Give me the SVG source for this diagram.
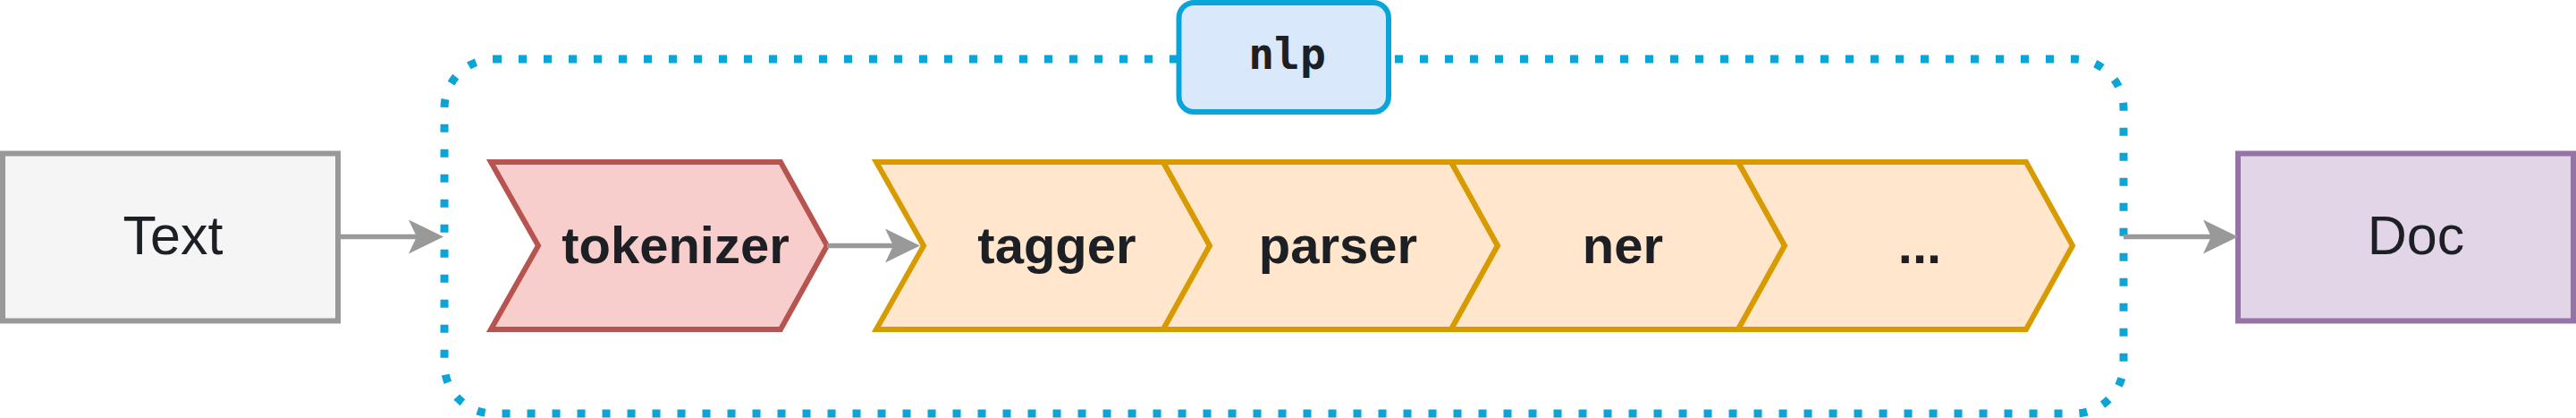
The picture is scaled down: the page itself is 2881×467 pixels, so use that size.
<svg xmlns="http://www.w3.org/2000/svg" width="2881" height="467" viewBox="0 0 2881 467">
  <style>
    .box { stroke-width: 6; }
    .lbl { font-family: "Liberation Sans", Arial, sans-serif; font-size: 61px; fill: #1c1f23; text-anchor: middle; }
    .blbl { font-family: "Liberation Sans", Arial, sans-serif; font-size: 58px; font-weight: bold; fill: #1c1f23; text-anchor: middle; }
    .mono { font-family: "DejaVu Sans Mono", "Liberation Mono", monospace; font-size: 48px; font-weight: bold; fill: #1c1f23; text-anchor: middle; }
    .step { fill: #ffe6cc; stroke: #d79b00; stroke-width: 6; stroke-linejoin: miter; }
    .conn { fill: none; stroke: #999999; stroke-width: 5.5; }
  </style>
  <defs>
    <marker id="arrow" viewBox="0 0 39 38" refX="9" refY="19" markerWidth="39" markerHeight="38" markerUnits="userSpaceOnUse" orient="auto">
      <path d="M39,19 L0,0 L9,19 L0,38 Z" fill="#999999"/>
    </marker>
  </defs>

  <g id="container">
    <rect x="497" y="66" width="1878" height="396" rx="55" ry="55" fill="none" stroke="#0aa5d8" stroke-width="9" stroke-dasharray="9 19"/>
  </g>

  <g id="nlp-label">
    <rect x="1318.5" y="3" width="234.5" height="122" rx="17" ry="17" fill="#dae8fc" stroke="#0aa5d8" stroke-width="6"/>
    <text class="mono" x="1439.5" y="77">nlp</text>
  </g>

  <g id="text-node">
    <rect class="box" x="3" y="171.5" width="375" height="187" fill="#f5f5f5" stroke="#999999"/>
    <text class="lbl" x="193.5" y="283.5">Text</text>
  </g>

  <g id="tokenizer">
    <path d="M549,181 L873,181 L925,274.5 L873,368 L549,368 L602,274.5 Z" fill="#f8cecc" stroke="#b85450" stroke-width="6"/>
    <text class="blbl" x="755.5" y="294">tokenizer</text>
  </g>

  <g id="tagger">
    <path class="step" d="M980,181 L1301,181 L1353,274.5 L1301,368 L980,368 L1033,274.5 Z"/>
    <text class="blbl" x="1182" y="294">tagger</text>
  </g>

  <g id="parser">
    <path class="step" d="M1301,181 L1623,181 L1675,274.5 L1623,368 L1301,368 L1353,274.5 Z"/>
    <text class="blbl" x="1496.5" y="294">parser</text>
  </g>

  <g id="ner">
    <path class="step" d="M1623,181 L1944,181 L1996,274.5 L1944,368 L1623,368 L1675,274.5 Z"/>
    <text class="blbl" x="1815" y="294">ner</text>
  </g>

  <g id="more">
    <path class="step" d="M1944,181 L2266,181 L2318,274.5 L2266,368 L1944,368 L1996,274.5 Z"/>
    <text class="blbl" x="2147" y="294">...</text>
  </g>

  <g id="doc-node">
    <rect class="box" x="2503" y="171.5" width="375" height="187" fill="#e1d5e7" stroke="#9673a6"/>
    <text class="lbl" x="2702" y="283.5">Doc</text>
  </g>

  <g id="connectors">
    <path class="conn" d="M378,264.5 L466,264.5" marker-end="url(#arrow)"/>
    <path class="conn" d="M925,274.5 L999,274.5" marker-end="url(#arrow)"/>
    <path class="conn" d="M2375,264.5 L2473,264.5" marker-end="url(#arrow)"/>
  </g>
</svg>
